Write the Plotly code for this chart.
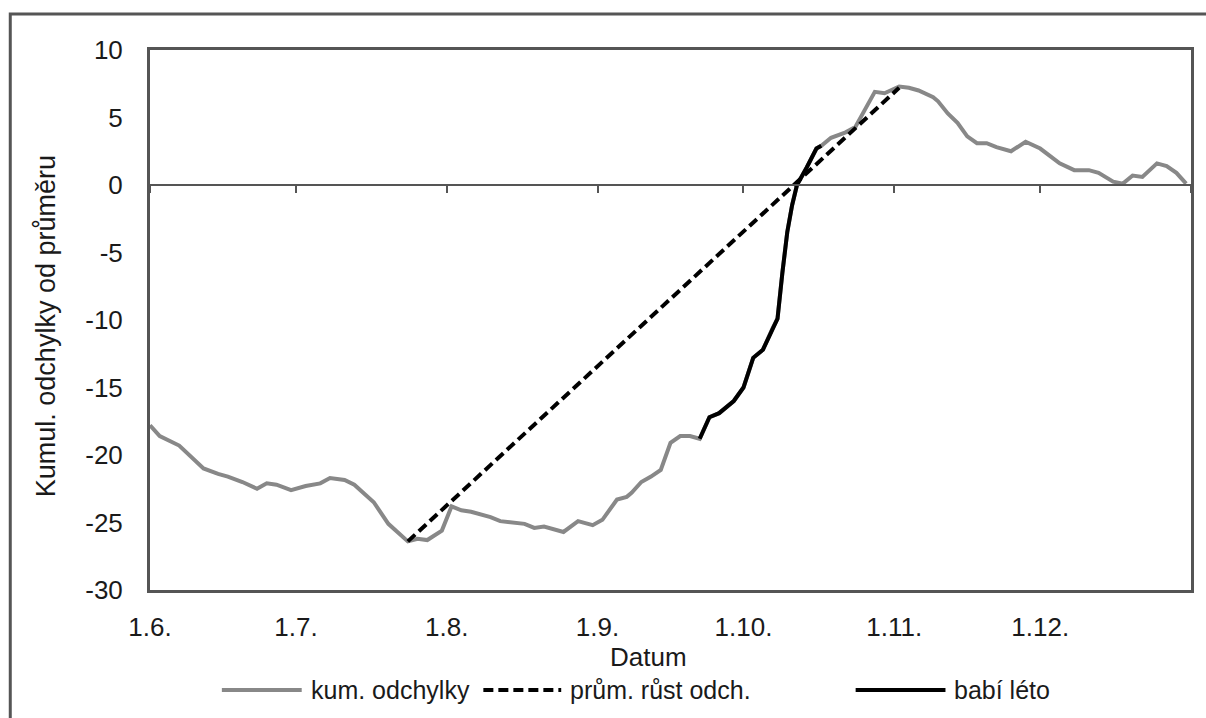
import pandas as pd
import plotly.graph_objects as go

BASE_DATE = "2013-06-01"

# day offsets from 1.6. and values
gray_days = [0, 2, 6, 8, 11, 14, 16, 19, 22, 24, 26, 29, 32, 35, 37, 40, 42, 46, 49, 53,
             55, 57, 60, 62, 64, 66, 70, 72, 74, 77, 79, 81, 85, 88, 91, 93, 96, 98, 99, 101,
             103, 105, 107, 109, 111, 113, 115, 117, 120, 122, 124, 126, 128, 129, 130, 131,
             132, 133, 135, 137, 138, 140, 143, 145, 147, 149, 151, 154, 156, 158, 161, 162,
             164, 166, 168, 170, 172, 174, 177, 180, 183, 187, 190, 193, 195, 198, 200, 202,
             204, 207, 209, 211, 213]
gray_vals = [-17.8, -18.6, -19.3, -20.0, -21.0, -21.4, -21.6, -22.0, -22.5, -22.1, -22.2, -22.6,
             -22.3, -22.1, -21.7, -21.85, -22.2, -23.5, -25.1, -26.4, -26.2, -26.3, -25.6, -23.8,
             -24.1, -24.2, -24.6, -24.9, -25.0, -25.1, -25.4, -25.3, -25.7, -24.9, -25.2, -24.8,
             -23.3, -23.1, -22.8, -22.0, -21.6, -21.1, -19.1, -18.6, -18.6, -18.8, -17.2, -16.9,
             -16.0, -15.0, -12.8, -12.2, -10.6, -9.9, -6.5, -3.5, -1.5, 0.0, 1.3, 2.7, 2.9, 3.5,
             3.9, 4.3, 5.6, 6.9, 6.8, 7.3, 7.2, 7.0, 6.5, 6.2, 5.3, 4.6, 3.6, 3.1, 3.1, 2.8, 2.5,
             3.2, 2.7, 1.6, 1.1, 1.1, 0.9, 0.25, 0.1, 0.7, 0.6, 1.6, 1.4, 0.9, 0.1]

black_days = [113, 115, 117, 120, 122, 124, 126, 128, 129, 130, 131, 132, 133, 135, 137, 138]
black_vals = [-18.8, -17.2, -16.9, -16.0, -15.0, -12.8, -12.2, -10.6, -9.9, -6.5, -3.5, -1.5,
              0.0, 1.3, 2.7, 2.9]

trend_days = [53, 154]
trend_vals = [-26.4, 7.2]

month_ticks = ["2013-06-01", "2013-07-01", "2013-08-01", "2013-09-01", "2013-10-01",
               "2013-11-01", "2013-12-01"]
month_labels = ["1.6.", "1.7.", "1.8.", "1.9.", "1.10.", "1.11.", "1.12."]
minor_ticks = month_ticks + ["2014-01-01"]
x_range = ["2013-06-01", "2014-01-01"]

y_ticks = [-30, -25, -20, -15, -10, -5, 0, 5, 10]
y_labels = ["-30", "-25", "-20", "-15", "-10", "-5", "0", "5", "10"]

names = ["kum. odchylky", "prům. růst odch.", "babí léto"]
colors = ["#888888", "black", "black"]
dashes = ["solid", "10px,5px", "solid"]

FONT = "Liberation Sans, Arial, sans-serif"
TXT = "#1a1a1a"
FRAME = "#555555"

# plot area in pixels: left 150, right 1193, top 50, bottom 590
PL, PR, PT, PB = 150, 1193, 50, 590


def px_x(p):
    return (p - PL) / (PR - PL)


def px_y(p):
    return (PB - p) / (PB - PT)


def to_dates(days):
    return pd.to_datetime(BASE_DATE) + pd.to_timedelta(days, unit="D")


fig = go.Figure()
fig.add_trace(go.Scatter(x=to_dates(gray_days), y=gray_vals, mode="lines", name=names[0],
                         line=dict(color=colors[0], width=4)))
fig.add_trace(go.Scatter(x=to_dates(trend_days), y=trend_vals, mode="lines", name=names[1],
                         xaxis="x2", line=dict(color=colors[1], width=4, dash=dashes[1])))
fig.add_trace(go.Scatter(x=to_dates(black_days), y=black_vals, mode="lines", name=names[2],
                         xaxis="x2", line=dict(color=colors[2], width=4)))

# manual legend (long line samples, as in the original)
legend_y = px_y(690)
sample_px = [(222, 302), (484, 562), (857, 947)]
shapes = [dict(type="rect", xref="paper", yref="paper",
               x0=px_x(10), x1=px_x(1212), y0=px_y(725), y1=px_y(14),
               line=dict(color=FRAME, width=3), fillcolor="rgba(0,0,0,0)", layer="below")]
annotations = []
for (a, b), nm, c, d in zip(sample_px, names, colors, dashes):
    shapes.append(dict(type="line", xref="paper", yref="paper", x0=px_x(a), x1=px_x(b),
                       y0=legend_y, y1=legend_y, line=dict(color=c, width=4, dash=d)))
    annotations.append(dict(text=nm, xref="paper", yref="paper", x=px_x(b + 7), y=legend_y,
                            xanchor="left", yanchor="middle", showarrow=False,
                            font=dict(size=25, color=TXT, family=FONT)))

annotations.append(dict(text="Datum", xref="paper", yref="paper", x=px_x(649), y=px_y(657),
                        xanchor="center", yanchor="middle", showarrow=False,
                        font=dict(size=26, color=TXT, family=FONT)))
annotations.append(dict(text="Kumul. odchylky od průměru", xref="paper", yref="paper",
                        x=px_x(46), y=px_y(326), xanchor="center", yanchor="middle",
                        textangle=-90, showarrow=False,
                        font=dict(size=27, color=TXT, family=FONT)))

fig.update_layout(
    width=1206, height=718,
    margin=dict(l=PL, r=1206 - PR, t=PT, b=718 - PB),
    paper_bgcolor="white", plot_bgcolor="white",
    font=dict(family=FONT, size=26, color=TXT),
    showlegend=False,
    # axis crossing at zero with month tick marks
    xaxis=dict(type="date", range=x_range, anchor="free", position=0.75,
               tickvals=minor_ticks, ticks="outside", ticklen=7, tickwidth=2,
               tickcolor=FRAME, showticklabels=False, showgrid=False, zeroline=False,
               showline=True, linecolor=FRAME, linewidth=2),
    # bottom axis with labels and plot frame
    xaxis2=dict(type="date", range=x_range, overlaying="x", anchor="y", side="bottom",
                tickvals=month_ticks, ticktext=month_labels, ticks="", showgrid=False,
                zeroline=False, showline=True, mirror=True, linecolor=FRAME, linewidth=3,
                ticklabelstandoff=12),
    yaxis=dict(range=[-30, 10], tickvals=y_ticks, ticktext=y_labels, ticks="",
               showgrid=False, zeroline=False, showline=True, mirror=True,
               linecolor=FRAME, linewidth=3, ticklabelstandoff=19),
    shapes=shapes,
    annotations=annotations,
)

fig.write_html("out.html")
